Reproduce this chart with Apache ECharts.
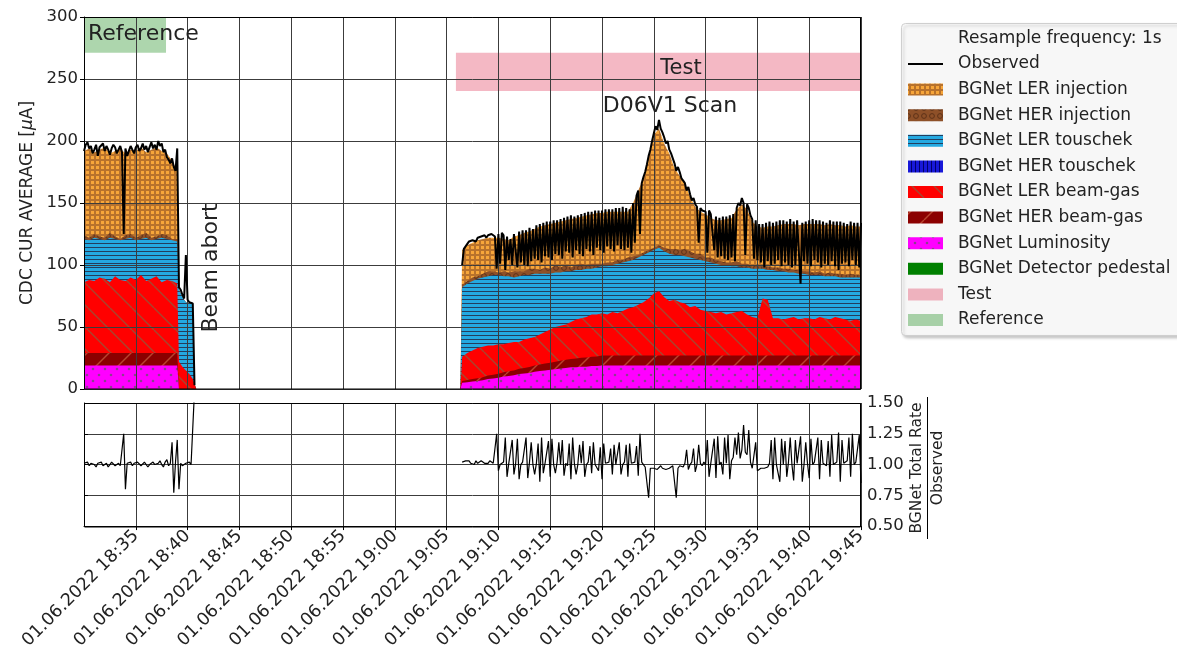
<!DOCTYPE html>
<html>
<head>
<meta charset="utf-8">
<script src="https://cdn.jsdelivr.net/npm/echarts@6.0.0/dist/echarts.min.js"></script>
<style>
  html, body { margin: 0; padding: 0; background: #fff; }
  #chart { width: 1177px; height: 652px; }
</style>
</head>
<body>
<div id="chart"></div>
<script>
// ---------------------------------------------------------------------------
// Time is measured in seconds after 01.06.2022 18:30:00.
// ---------------------------------------------------------------------------
const range = (a, b, step) => { const out = []; for (let v = a; v <= b; v += step) out.push(v); return out; };

// Sample times of the BGNet components: reference run, beam abort, test run
const componentTimes = [
  ...range(0, 540, 30),
  550, 570, 590, 610, 630, 640, 650, 2180,
  ...range(2190, 4500, 30)
];

// BGNet component contributions [µA], listed bottom to top of the stack
const luminosity = [
  19, 19, 19, 19, 19, 19, 19, 19, 19, 19, 19, 19, 19, 19, 19, 19, 19, 19, 19,
  0, 0, 0, 0, 0, 0, 0, 0,
  5, 5.5, 6, 6.5, 7, 8, 8.5, 9, 10, 10.5,
  11, 12, 12.5, 13, 14, 14.5, 15, 15.5, 16, 16.5,
  17, 17.5, 17.5, 18, 18, 18.5, 18.5, 19, 19, 19,
  19, 19, 19, 19, 19, 19, 19, 19, 19, 19,
  19, 19, 19, 19, 19, 19, 19, 19, 19, 19,
  19, 19, 19, 19, 19, 19, 19, 19, 19, 19,
  19, 19, 19, 19, 19, 19, 19, 19, 19, 19,
  19, 19, 19, 19, 19, 19, 19, 19
];
const herBeamGas = [
  10, 10, 10, 10, 10, 10, 10, 10, 10, 10, 10, 10, 10, 10, 10, 10, 10, 10, 10,
  0, 0, 0, 0, 0, 0, 0, 0,
  1.5, 1.7, 2, 2.2, 2.5, 2.8, 3, 3.2, 3.5, 3.8,
  4, 4.3, 4.5, 4.8, 5, 5.2, 5.5, 5.7, 6, 6.2,
  6.5, 6.7, 7, 7.2, 7.4, 7.6, 7.8, 8, 8, 8,
  8, 8, 8, 8, 8, 8, 8, 8, 8, 8,
  8, 8, 8, 8, 8, 8, 8, 8, 8, 8,
  8, 8, 8, 8, 8, 8, 8, 8, 8, 8,
  8, 8, 8, 8, 8, 8, 8, 8, 8, 8,
  8, 8, 8, 8, 8, 8, 8, 8
];
const lerBeamGas = [
  57, 59, 58, 61, 60, 57, 62, 59, 58, 61, 59, 63, 58, 60, 62, 57, 59, 58, 56,
  22, 18, 15, 12, 8, 4, 0, 0,
  19.5, 21.8, 23, 24.3, 24.5, 24.2, 23.5, 23.8, 22.5, 22.7,
  23, 21.7, 23, 23.2, 23, 24.3, 25.5, 26.8, 28, 28.3,
  28.5, 29.8, 31.5, 31.8, 32.6, 33.9, 33.7, 34, 33, 35,
  34, 36, 38, 39, 41, 43, 46, 50, 52, 47,
  44, 45, 43, 42, 39, 40, 37, 36, 35, 34,
  35, 33, 34, 35, 36, 33, 31, 30, 46, 45,
  30, 30, 29, 30, 31, 29, 30, 30, 29, 31,
  30, 29, 31, 30, 29, 28, 29, 28
];
const lerTouschek = [
  35, 32, 35, 31, 31, 36, 30, 32, 34, 32, 32, 29, 35, 31, 30, 36, 33, 33, 34,
  58, 56, 55, 57, 61, 0, 0, 0,
  56, 56, 56, 56, 56, 56, 57, 56, 55, 54,
  52, 53, 52, 51, 51, 49, 47, 45, 44, 43,
  43, 41, 40, 39, 39, 37, 38, 38, 39, 38,
  40, 39, 38, 38, 38, 38, 37, 35, 35, 37,
  38, 36, 38, 38, 40, 38, 40, 40, 40, 40,
  38, 40, 38, 37, 35, 38, 39, 40, 24, 24,
  39, 38, 39, 37, 36, 37, 36, 35, 36, 34,
  34, 35, 33, 33, 34, 35, 34, 35
];
const herInjection = [
  3, 2, 3, 2, 2, 4, 2, 1, 3, 3, 2, 3, 4, 2, 2, 3, 3, 1, 2,
  0, 0, 0, 0, 0, 0, 0, 0,
  2, 2, 3, 2, 3, 4, 3, 2, 4, 3,
  5, 4, 3, 5, 4, 3, 5, 4, 6, 4,
  5, 3, 4, 5, 3, 4, 3, 2, 3, 2,
  3, 2, 3, 3, 2, 2, 2, 2, 2, 3,
  4, 5, 4, 6, 5, 4, 5, 3, 4, 3,
  3, 2, 3, 4, 3, 3, 2, 3, 2, 3,
  2, 3, 2, 3, 2, 3, 2, 3, 2, 3,
  2, 3, 2, 3, 2, 3, 2, 2
];
const lerInjection = [
  68, 72, 66, 70, 73, 64, 69, 73, 66, 68, 70, 71, 65, 71, 72, 67, 66, 63, 55,
  0, 0, 0, 0, 0, 0, 0, 0,
  28, 29, 28, 29, 28, 27, 27, 28, 26, 26,
  28, 29, 31, 30, 32, 35, 34, 36, 34, 37,
  36, 39, 38, 38, 40, 40, 41, 41, 41, 41,
  39, 39, 37, 43, 52, 60, 76, 91, 94, 84,
  77, 65, 60, 53, 44, 38, 34, 35, 32, 32,
  33, 35, 36, 42, 48, 44, 36, 31, 31, 32,
  33, 34, 36, 36, 37, 36, 38, 38, 39, 38,
  39, 39, 39, 39, 39, 39, 39, 39
];

// Observed CDC current and BGNet / observed ratio (null marks the gap without beam)
const observedTimes = [...range(0, 640, 10), 1400, ...range(2190, 4500, 10)];
const observed = [
  192, 197, 199, 194, 196, 190, 193, 197, 188, 195,
  194, 198, 192, 196, 193, 189, 194, 197, 195, 190,
  193, 196, 191, 125, 194, 188, 192, 196, 193, 190,
  195, 197, 192, 194, 198, 193, 196, 191, 195, 199,
  194, 197, 193, 200, 196, 198, 191, 193, 187, 185,
  182, 186, 179, 176, 194, 82, 80, 76, 73, 108,
  72, 70, 69, 69, 3,
  null,
  100, 113, 115, 117, 119, 118, 120, 121, 119, 122, 123, 123,
  123, 124, 122, 124, 125, 125, 124, 123, 97, 125, 101, 126,
  124, 96, 123, 104, 121, 100, 125, 126, 98, 127, 102, 128,
  100, 128, 99, 130, 103, 129, 105, 132, 104, 133, 102, 134,
  107, 135, 106, 135, 104, 136, 109, 136, 108, 137, 105, 138,
  111, 139, 110, 140, 106, 139, 112, 140, 109, 141, 107, 142,
  113, 143, 111, 143, 108, 144, 114, 144, 112, 144, 110, 145,
  115, 145, 113, 145, 111, 146, 116, 146, 113, 147, 112, 146,
  114, 145, 110, 150, 118, 156, 160, 125, 166, 171, 175, 181,
  188, 193, 200, 206, 212, 209, 217, 210, 207, 203, 198, 200,
  193, 190, 186, 182, 176, 179, 175, 170, 168, 166, 160, 163,
  157, 152, 154, 149, 147, 118, 146, 144, 145, 143, 110, 144,
  141, 140, 112, 139, 106, 138, 107, 139, 105, 139, 104, 140,
  106, 141, 103, 146, 150, 148, 154, 150, 108, 149, 146, 140,
  137, 105, 136, 104, 133, 102, 133, 98, 134, 103, 135, 100,
  134, 101, 135, 104, 136, 99, 136, 102, 135, 100, 137, 98,
  135, 100, 136, 135, 85, 134, 103, 135, 101, 136, 99, 137,
  104, 136, 102, 136, 98, 135, 101, 134, 100, 136, 103, 135,
  99, 135, 96, 135, 101, 134, 102, 133, 99, 135, 104, 134,
  100, 134, 98, 134
];
const rateRatio = [
  1.01, 1.00, 1.02, 0.99, 1.01, 1.02, 1.00, 0.98, 1.01, 1.00,
  1.02, 0.99, 1.00, 1.01, 0.98, 1.00, 1.02, 1.01, 0.99, 1.00,
  1.01, 0.99, 1.00, 1.25, 0.80, 1.01, 1.00, 1.02, 0.99, 1.01,
  1.00, 1.02, 1.01, 0.99, 1.00, 1.02, 1.01, 0.98, 1.00, 1.01,
  1.02, 1.00, 0.99, 1.01, 1.03, 1.00, 0.98, 1.02, 1.04, 0.99,
  1.01, 1.18, 0.77, 1.02, 1.20, 0.80, 1.01, 0.99, 1.00, 1.01,
  1.00, 1.02, 1.00, 1.01, 1.60,
  null,
  1.02, 1.01, 1.03, 1.02, 1.03, 1.01, 1.02, 1.00, 1.03, 1.01, 1.02, 1.03,
  1.02, 1.01, 1.02, 1.01, 1.03, 1.02, 1.01, 1.02, 1.25, 0.95, 1.00, 1.01,
  1.02, 1.22, 0.90, 1.01, 1.02, 1.20, 0.92, 1.01, 1.21, 0.88, 1.00, 1.02,
  1.01, 1.22, 0.89, 1.02, 1.18, 1.00, 0.92, 1.01, 1.17, 0.86, 1.22, 0.93,
  1.01, 1.00, 1.19, 0.90, 1.21, 1.00, 0.93, 1.02, 1.18, 1.00, 1.20, 0.91,
  1.01, 0.99, 1.17, 0.88, 1.22, 1.01, 0.92, 1.00, 1.16, 1.01, 1.19, 0.90,
  1.00, 1.02, 1.15, 0.93, 1.18, 1.00, 1.01, 0.95, 1.14, 0.88, 1.17, 1.01,
  1.00, 1.02, 1.13, 0.92, 1.16, 1.00, 1.01, 1.18, 0.92, 1.00, 1.02, 1.16,
  0.90, 1.17, 1.01, 1.00, 1.02, 1.15, 0.91, 1.25, 1.02, 1.00, 0.98, 0.97,
  0.73, 0.97, 0.98, 0.97, 0.98, 0.96, 0.97, 0.99, 0.97, 0.98, 0.96, 0.97,
  0.97, 0.98, 0.99, 0.98, 0.73, 0.97, 0.99, 1.00, 0.98, 1.01, 1.12, 0.96,
  1.00, 1.02, 1.13, 0.94, 1.00, 1.16, 1.01, 0.99, 1.02, 1.00, 1.20, 0.90,
  1.01, 1.02, 1.21, 0.89, 1.23, 1.00, 1.02, 0.92, 1.22, 1.01, 1.24, 0.88,
  1.03, 1.06, 1.22, 1.08, 1.26, 1.05, 1.12, 1.32, 1.10, 1.08, 1.28, 1.02,
  0.97, 0.96, 1.18, 0.95, 0.96, 0.97, 0.96, 0.97, 0.96, 0.98, 1.01, 1.20,
  0.88, 1.22, 1.00, 1.01, 0.86, 1.21, 1.00, 1.19, 0.90, 1.02, 1.22, 1.00,
  0.87, 1.20, 1.01, 1.02, 1.23, 0.86, 1.00, 1.18, 1.01, 0.89, 1.21, 1.00,
  1.02, 1.01, 1.22, 0.88, 1.20, 1.01, 1.00, 0.99, 1.19, 0.90, 1.24, 1.00,
  1.01, 1.02, 1.26, 0.86, 1.20, 1.01, 1.00, 1.03, 1.22, 0.90, 1.25, 1.00,
  1.02, 1.01, 1.24, 0.85
];

// Shaded time windows
const testWindow = { from: 2154, to: 4500, low: 240.3, high: 271.2 };
const referenceWindow = { from: 0, to: 475, low: 271.2, high: 300 };

// Axis ticks
const timeTickStep = 300;
const currentTicks = { min: 0, max: 300, step: 50 };
const ratioTicks = { min: 0.5, max: 1.5, step: 0.25 };

// ---------------------------------------------------------------------------
// Hatch fills
// ---------------------------------------------------------------------------
function hatch(w, h, bg, draw) {
  const c = document.createElement('canvas');
  c.width = w; c.height = h;
  const g = c.getContext('2d');
  g.fillStyle = bg; g.fillRect(0, 0, w, h);
  if (draw) draw(g, w, h);
  return { image: c, repeat: 'repeat' };
}
const diag = (dir, color, lw) => (g, w, h) => {
  g.strokeStyle = color; g.lineWidth = lw;
  for (const o of [-w, 0, w]) {
    g.beginPath();
    if (dir > 0) { g.moveTo(o, 0); g.lineTo(o + w, h); }
    else { g.moveTo(o, h); g.lineTo(o + w, 0); }
    g.stroke();
  }
};
const fills = {
  lerInj: hatch(5, 5, '#b8722c', g => { g.fillStyle = '#f7a63a'; g.fillRect(1, 1, 3, 3); }),
  herInj: hatch(8, 8, '#8e5028', g => { g.strokeStyle = '#5e3218'; g.lineWidth = 1; g.beginPath(); g.arc(4, 4, 2.4, 0, Math.PI * 2); g.stroke(); }),
  lerTou: hatch(4, 4, '#24a9e1', g => { g.fillStyle = '#233e5e'; g.fillRect(0, 3, 4, 1); }),
  herTou: hatch(4, 4, '#1818d8', g => { g.fillStyle = '#00006a'; g.fillRect(3, 0, 1, 4); }),
  lerBg: hatch(22, 22, '#ff0000', diag(1, '#a8452e', 1.4)),
  herBg: hatch(22, 22, '#8b0000', diag(-1, '#b8442e', 1.4)),
  lumi: hatch(12, 12, '#ff00ff', g => {
    g.fillStyle = '#8c3f90';
    g.beginPath(); g.arc(3, 3, 1.3, 0, Math.PI * 2); g.fill();
    g.beginPath(); g.arc(9, 9, 1.3, 0, Math.PI * 2); g.fill();
  }),
  pedestal: '#008000',
  test: 'rgba(220,20,60,0.3)',
  reference: 'rgba(0,128,0,0.32)'
};

// ---------------------------------------------------------------------------
const zip = (xs, ys) => xs.map((x, i) => [x, ys[i]]);

function clockLabel(sec) {
  const total = 18 * 60 + 30 + Math.round(sec / 60);
  const h = Math.floor(total / 60), m = total % 60;
  return '01.06.2022 ' + h + ':' + (m < 10 ? '0' : '') + m;
}

const stackLayers = [
  { name: 'BGNet Luminosity', values: luminosity, fill: fills.lumi },
  { name: 'BGNet HER beam-gas', values: herBeamGas, fill: fills.herBg },
  { name: 'BGNet LER beam-gas', values: lerBeamGas, fill: fills.lerBg },
  { name: 'BGNet LER touschek', values: lerTouschek, fill: fills.lerTou },
  { name: 'BGNet HER injection', values: herInjection, fill: fills.herInj },
  { name: 'BGNet LER injection', values: lerInjection, fill: fills.lerInj }
];

// Running totals: each layer is filled from zero up to its cumulative top,
// upper layers first so the lower ones are painted over them.
let running = componentTimes.map(() => 0);
const layerTops = stackLayers.map(l => {
  running = running.map((v, i) => v + l.values[i]);
  return running.slice();
});

const GRID_COLOR = '#3c3c3c';
const TEXT = '#222';

const series = [];
for (let i = stackLayers.length - 1; i >= 0; i--) {
  series.push({
    name: stackLayers[i].name,
    type: 'line',
    xAxisIndex: 0, yAxisIndex: 0,
    data: zip(componentTimes, layerTops[i]),
    symbol: 'none',
    lineStyle: { width: 0, color: 'rgba(0,0,0,0)' },
    areaStyle: { color: stackLayers[i].fill, opacity: 1, origin: 'start' },
    silent: true,
    z: 1
  });
}

series.push({
  name: 'Observed',
  type: 'line',
  xAxisIndex: 0, yAxisIndex: 0,
  data: zip(observedTimes, observed),
  symbol: 'none',
  connectNulls: false,
  lineStyle: { width: 2, color: '#000' },
  silent: true,
  z: 5,
  markArea: {
    silent: true,
    data: [
      [{ xAxis: testWindow.from, yAxis: testWindow.low, itemStyle: { color: fills.test } },
       { xAxis: testWindow.to, yAxis: testWindow.high }],
      [{ xAxis: referenceWindow.from, yAxis: referenceWindow.low, itemStyle: { color: fills.reference } },
       { xAxis: referenceWindow.to, yAxis: referenceWindow.high }]
    ]
  }
});

series.push({
  name: 'BGNet Total Rate / Observed',
  type: 'line',
  xAxisIndex: 1, yAxisIndex: 1,
  data: zip(observedTimes, rateRatio),
  symbol: 'none',
  connectNulls: false,
  lineStyle: { width: 1.2, color: '#000' },
  silent: true,
  z: 5
});

// Legend (drawn as graphics so the hatch swatches match the areas)
const legendRows = [
  { label: 'Resample frequency: 1s' },
  { label: 'Observed', line: true },
  { label: 'BGNet LER injection', fill: fills.lerInj },
  { label: 'BGNet HER injection', fill: fills.herInj },
  { label: 'BGNet LER touschek', fill: fills.lerTou },
  { label: 'BGNet HER touschek', fill: fills.herTou },
  { label: 'BGNet LER beam-gas', fill: fills.lerBg },
  { label: 'BGNet HER beam-gas', fill: fills.herBg },
  { label: 'BGNet Luminosity', fill: fills.lumi },
  { label: 'BGNet Detector pedestal', fill: fills.pedestal },
  { label: 'Test', fill: fills.test },
  { label: 'Reference', fill: fills.reference }
];

const graphic = [];
graphic.push({
  type: 'rect', z: 90, silent: true,
  shape: { x: 901.5, y: 23.5, width: 290, height: 312, r: 4 },
  style: { fill: 'rgba(255,255,255,0.85)', stroke: '#cfcfcf', lineWidth: 1,
           shadowBlur: 3, shadowOffsetX: 2, shadowOffsetY: 2, shadowColor: 'rgba(0,0,0,0.25)' }
});
legendRows.forEach((row, i) => {
  const cy = 38.4 + 25.6 * i;
  if (row.line) {
    graphic.push({ type: 'line', z: 91, silent: true,
      shape: { x1: 908, y1: cy, x2: 943, y2: cy }, style: { stroke: '#000', lineWidth: 2 } });
  } else if (row.fill) {
    graphic.push({ type: 'rect', z: 91, silent: true,
      shape: { x: 908, y: cy - 6, width: 35, height: 12 }, style: { fill: row.fill } });
  }
  graphic.push({ type: 'text', z: 91, silent: true, x: 958, y: cy,
    style: { text: row.label, font: '17px "DejaVu Sans"', fill: TEXT, verticalAlign: 'middle', align: 'left' } });
});

// Frames around both panels
graphic.push({ type: 'rect', z: 80, silent: true,
  shape: { x: 84.5, y: 17.5, width: 776, height: 371.5 }, style: { fill: null, stroke: '#000', lineWidth: 1 } });
graphic.push({ type: 'rect', z: 80, silent: true,
  shape: { x: 84.5, y: 403.5, width: 776, height: 123.5 }, style: { fill: null, stroke: '#000', lineWidth: 1 } });

// Annotations
graphic.push({ type: 'text', z: 85, silent: true, x: 88, y: 34,
  style: { text: 'Reference', font: '22px "DejaVu Sans"', fill: TEXT, verticalAlign: 'middle', align: 'left' } });
graphic.push({ type: 'text', z: 85, silent: true, x: 681, y: 69,
  style: { text: 'Test', font: '21px "DejaVu Sans"', fill: TEXT, verticalAlign: 'middle', align: 'center' } });
graphic.push({ type: 'text', z: 85, silent: true, x: 670, y: 106,
  style: { text: 'D06V1 Scan', font: '22px "DejaVu Sans"', fill: TEXT, verticalAlign: 'middle', align: 'center' } });
graphic.push({ type: 'text', z: 85, silent: true, x: 211, y: 268, rotation: Math.PI / 2,
  style: { text: 'Beam abort', font: '22px "DejaVu Sans"', fill: TEXT, verticalAlign: 'middle', align: 'center' } });

// Ratio axis title as a stacked fraction
graphic.push({
  type: 'group', x: 927, y: 468, rotation: Math.PI / 2, z: 85, silent: true,
  children: [
    { type: 'text', x: 0, y: -10, style: { text: 'BGNet Total Rate', font: '15.5px "DejaVu Sans"', fill: TEXT, align: 'center', verticalAlign: 'middle' } },
    { type: 'line', shape: { x1: -71, y1: 0.5, x2: 71, y2: 0.5 }, style: { stroke: '#000', lineWidth: 1 } },
    { type: 'text', x: 0, y: 11, style: { text: 'Observed', font: '15.5px "DejaVu Sans"', fill: TEXT, align: 'center', verticalAlign: 'middle' } }
  ]
});

const splitLine = { show: true, lineStyle: { color: GRID_COLOR, width: 1 } };

// Axes sit above the filled areas so the grid shows through them
const option = {
  animation: false,
  backgroundColor: '#fff',
  textStyle: { fontFamily: 'DejaVu Sans' },
  grid: [
    { left: 84, top: 17, width: 777, height: 372 },
    { left: 84, top: 403, width: 777, height: 124 }
  ],
  xAxis: [
    { type: 'value', gridIndex: 0, z: 3, min: 0, max: 4500, interval: timeTickStep,
      axisLine: { show: false, onZero: false }, axisTick: { show: false }, axisLabel: { show: false },
      splitLine },
    { type: 'value', gridIndex: 1, z: 3, min: 0, max: 4500, interval: timeTickStep,
      axisLine: { show: true, onZero: false, lineStyle: { color: '#000' } },
      axisTick: { show: true, length: 4, lineStyle: { color: '#000' } },
      axisLabel: { show: true, rotate: 45, fontSize: 17.5, color: TEXT, margin: 7,
                   showMinLabel: false, showMaxLabel: true, formatter: clockLabel },
      splitLine }
  ],
  yAxis: [
    { type: 'value', gridIndex: 0, z: 3, min: currentTicks.min, max: currentTicks.max, interval: currentTicks.step,
      axisLine: { show: true, lineStyle: { color: '#000' } },
      axisTick: { show: true, length: 4, lineStyle: { color: '#000' } },
      axisLabel: { fontSize: 16.5, color: TEXT, margin: 6 },
      splitLine,
      name: '{a|CDC CUR AVERAGE [}{b|μ}{a|A]}',
      nameLocation: 'middle', nameGap: 41,
      nameTextStyle: { rich: {
        a: { fontSize: 17, color: TEXT, fontFamily: 'DejaVu Sans' },
        b: { fontSize: 17, color: TEXT, fontFamily: 'DejaVu Sans', fontStyle: 'italic' } } } },
    { type: 'value', gridIndex: 1, z: 3, position: 'right', min: ratioTicks.min, max: ratioTicks.max, interval: ratioTicks.step,
      axisLine: { show: true, lineStyle: { color: '#000' } },
      axisTick: { show: true, length: 4, lineStyle: { color: '#000' } },
      axisLabel: { fontSize: 16.5, color: TEXT, margin: 6, formatter: v => v.toFixed(2) },
      splitLine }
  ],
  series,
  graphic
};

const chart = echarts.init(document.getElementById('chart'), null, { renderer: 'canvas' });
chart.setOption(option);
</script>
</body>
</html>
